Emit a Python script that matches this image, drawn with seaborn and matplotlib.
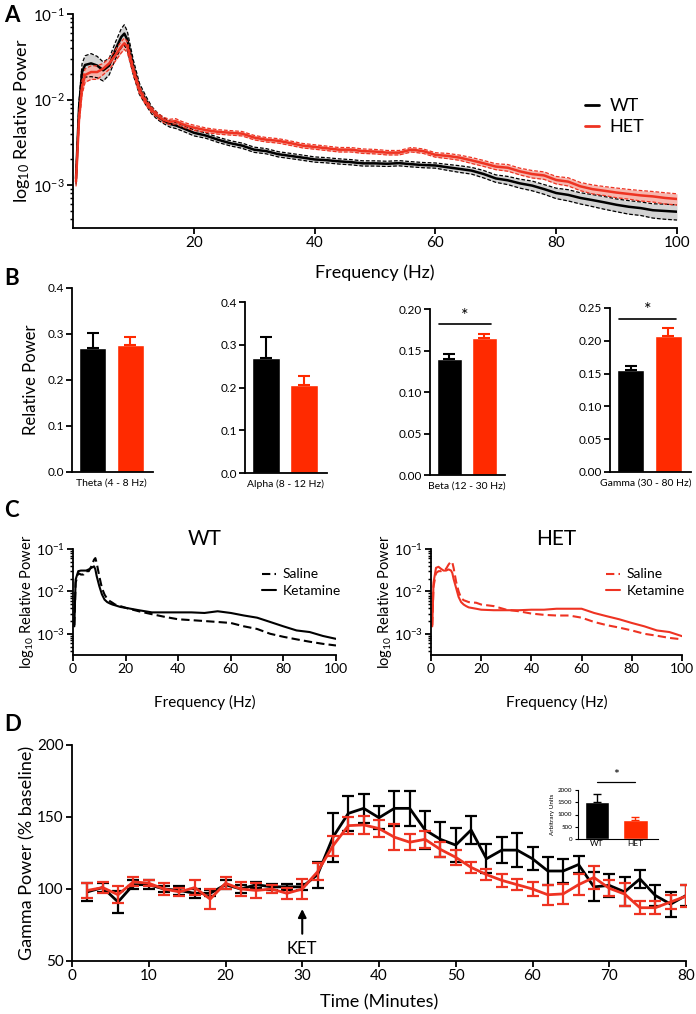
import numpy as np
import pandas as pd
import matplotlib
matplotlib.use("Agg")
import matplotlib.pyplot as plt
from matplotlib.lines import Line2D
from matplotlib.ticker import LogLocator, NullFormatter, FixedLocator
import seaborn as sns

# ---------------- data ----------------
# Panel A : mean spectra (relative power) with SEM fraction
F_A = [0.5, 1, 1.5, 2, 3, 4, 5, 6, 7, 8, 8.5, 9, 10, 11, 12, 13, 14, 15, 16, 17, 18, 19, 20,
       22, 24, 26, 28, 30, 32, 34, 36, 38, 40, 42, 44, 46, 48, 50, 52, 54, 56, 58, 60,
       62, 64, 66, 68, 70, 72, 74, 76, 78, 80, 82, 84, 86, 88, 90, 92, 94, 96, 98, 100]
WT_A = [0.0012, 0.008, 0.021, 0.0254, 0.0265, 0.025, 0.022, 0.025, 0.038, 0.054, 0.059, 0.05,
        0.024, 0.0135, 0.0100, 0.0076, 0.0064, 0.0057, 0.0052, 0.0050, 0.0047, 0.0044, 0.0041,
        0.0038, 0.0034, 0.0031, 0.0029, 0.0026, 0.0025, 0.0023, 0.0022, 0.0021, 0.0020, 0.00196,
        0.0019, 0.00186, 0.0018, 0.0018, 0.00178, 0.00181, 0.00176, 0.00172, 0.0017, 0.00162,
        0.00155, 0.00148, 0.00135, 0.0012, 0.00114, 0.00105, 0.00099, 0.0009, 0.00081, 0.00077,
        0.00071, 0.00067, 0.00063, 0.00059, 0.00056, 0.00054, 0.00051, 0.0005, 0.00049]
WT_A_SEM = [0.15, 0.2, 0.25, 0.28, 0.3, 0.28, 0.25, 0.22, 0.22, 0.25, 0.27, 0.25, 0.2, 0.15, 0.12,
            0.1, 0.09, 0.08, 0.08, 0.08, 0.08, 0.08, 0.08,
            0.07, 0.07, 0.07, 0.07, 0.07, 0.07, 0.07, 0.07, 0.07, 0.07, 0.07, 0.07, 0.07, 0.07,
            0.07, 0.07, 0.07, 0.07, 0.07, 0.07,
            0.08, 0.09, 0.09, 0.1, 0.1, 0.11, 0.12, 0.13, 0.13, 0.14,
            0.15, 0.15, 0.16, 0.17, 0.17, 0.18, 0.18, 0.19, 0.2, 0.2]
HET_A = [0.0011, 0.006, 0.014, 0.0194, 0.021, 0.021, 0.023, 0.0265, 0.033, 0.0415, 0.0455, 0.0415,
         0.022, 0.013, 0.0095, 0.0076, 0.0065, 0.0058, 0.0055, 0.0056, 0.0052, 0.0049, 0.0047,
         0.0044, 0.0042, 0.0041, 0.0040, 0.0036, 0.0034, 0.0033, 0.0031, 0.0029, 0.0028, 0.0027,
         0.0026, 0.0026, 0.0025, 0.00247, 0.0024, 0.0024, 0.0026, 0.0025, 0.00226, 0.0022,
         0.0021, 0.00195, 0.0018, 0.00165, 0.0016, 0.00145, 0.00135, 0.0013, 0.00115, 0.0011,
         0.00097, 0.0009, 0.00086, 0.00082, 0.00079, 0.00076, 0.00074, 0.00071, 0.00069]
HET_A_SEM = [0.12, 0.15, 0.18, 0.18, 0.18, 0.18, 0.15, 0.15, 0.15, 0.15, 0.15, 0.15, 0.12, 0.1,
             0.08, 0.07, 0.07, 0.07, 0.07, 0.07, 0.07, 0.07, 0.07,
             0.06, 0.06, 0.06, 0.06, 0.06, 0.06, 0.06, 0.06, 0.06, 0.06, 0.06, 0.06, 0.06, 0.06,
             0.06, 0.06, 0.06, 0.06, 0.06, 0.06,
             0.07, 0.07, 0.08, 0.08, 0.08, 0.09, 0.09, 0.1, 0.1, 0.1,
             0.11, 0.11, 0.12, 0.12, 0.13, 0.13, 0.14, 0.14, 0.15, 0.15]

# Panel B : band power
BANDS = ["Theta (4 - 8 Hz)", "Alpha (8 - 12 Hz)", "Beta (12 - 30 Hz)", "Gamma (30 - 80 Hz)"]
GENOTYPES = ["WT", "HET"]
WT_BAND = [0.270, 0.270, 0.140, 0.155]
WT_BAND_SEM = [0.032, 0.049, 0.006, 0.007]
HET_BAND = [0.275, 0.207, 0.165, 0.208]
HET_BAND_SEM = [0.019, 0.020, 0.005, 0.011]
B_YMAX = [0.4, 0.4, 0.20, 0.25]
B_YSTEP = [0.1, 0.1, 0.05, 0.05]
B_SIG = [None, None, 0.1815, 0.233]

# Panel C : saline vs ketamine spectra
F_C = [0.5, 1, 2, 3, 4, 5, 6, 7, 8, 8.5, 9, 10, 11, 12, 13, 14, 15, 16, 18, 20, 25, 30, 35, 40,
       45, 50, 55, 60, 65, 70, 75, 80, 85, 90, 95, 100]
WT_SAL = [0.0016, 0.016, 0.027, 0.025, 0.025, 0.03, 0.03, 0.039, 0.056, 0.061, 0.047, 0.0227,
          0.012, 0.0084, 0.0067, 0.0059, 0.0054, 0.0049, 0.0045, 0.0041, 0.0034, 0.0029, 0.0025,
          0.0022, 0.0021, 0.0020, 0.0019, 0.0018, 0.0015, 0.0013, 0.0010, 0.00085, 0.00074,
          0.00065, 0.00058, 0.00053]
WT_KET = [0.0015, 0.019, 0.030, 0.031, 0.031, 0.031, 0.033, 0.036, 0.039, 0.033, 0.023, 0.0133,
          0.0085, 0.0064, 0.0056, 0.0052, 0.0049, 0.0047, 0.0043, 0.0041, 0.0036, 0.0032, 0.0032,
          0.0032, 0.0032, 0.0031, 0.0034, 0.0031, 0.0027, 0.0024, 0.0019, 0.0015, 0.0012, 0.0011,
          0.00089, 0.00076]
HET_SAL = [0.0016, 0.013, 0.027, 0.030, 0.030, 0.033, 0.034, 0.043, 0.051, 0.048, 0.036, 0.017,
           0.010, 0.0070, 0.0062, 0.0059, 0.0056, 0.0055, 0.0054, 0.0049, 0.0045, 0.0037, 0.0034,
           0.0030, 0.0028, 0.0027, 0.0027, 0.0024, 0.0019, 0.0016, 0.0014, 0.0012, 0.0010, 0.0009,
           0.0008, 0.00074]
HET_KET = [0.0015, 0.016, 0.036, 0.038, 0.034, 0.031, 0.031, 0.033, 0.031, 0.027, 0.0197, 0.0121,
           0.0074, 0.0056, 0.0049, 0.0045, 0.0042, 0.0041, 0.0039, 0.0037, 0.0036, 0.0036, 0.0036,
           0.0037, 0.0037, 0.0039, 0.0039, 0.0039, 0.0031, 0.0026, 0.0022, 0.0018, 0.0015, 0.0012,
           0.0011, 0.00088]

# Panel D : gamma power time course
T_D = [2, 4, 6, 8, 10, 12, 14, 16, 18, 20, 22, 24, 26, 28, 30, 32, 34, 36, 38, 40,
       42, 44, 46, 48, 50, 52, 54, 56, 58, 60, 62, 64, 66, 68, 70, 72, 74, 76, 78, 80]
WT_D = [98, 101, 91, 103, 103, 100, 99, 97, 97, 103, 100, 103, 101.5, 101.5, 101.5, 110, 136,
        152.5, 156, 149.5, 156, 156, 141, 134.5, 130.5, 141, 121, 127, 127, 121, 112.5, 112.5,
        117, 101.5, 102.5, 98, 107, 95.5, 89.5, 95.5]
WT_D_SEM = [6.4, 3, 7.5, 3, 3, 2, 3, 3, 2, 3, 3, 2, 2, 2, 2, 9, 17, 12, 10, 8, 12, 12, 13, 12,
            12, 10, 10, 9, 11.6, 8, 9.5, 8, 5.6, 10, 8, 10, 6, 7, 8.6, 7]
HET_D = [99, 101, 96, 105, 104, 100, 98, 101, 93, 104, 100, 99, 100, 97, 100, 112, 130, 144,
         144.5, 142, 136, 132.5, 134.5, 127.5, 122, 115, 110, 106, 103, 100, 96, 96.6, 103, 108,
         100.5, 96.5, 87, 87, 91, 95]
HET_D_SEM = [5, 4, 6, 3, 2, 4, 3, 5, 7, 4, 5, 5, 3, 4, 7, 6, 7, 6, 6.5, 6, 9, 5.5, 6, 5, 5, 4,
             4, 4.5, 4, 5, 7, 6.7, 7.5, 7.7, 5.7, 8, 4.5, 4.5, 4.6, 7.5]
INSET = [1500, 790]
INSET_SEM = [350, 90]

# ---------------- style ----------------
sns.set_theme(style="ticks")
plt.rcParams["font.family"] = ["Lato", "DejaVu Sans"]
plt.rcParams["mathtext.fontset"] = "custom"
plt.rcParams["mathtext.rm"] = "Lato"
plt.rcParams["mathtext.it"] = "Lato:italic"
plt.rcParams["mathtext.bf"] = "Lato:bold"
plt.rcParams["axes.edgecolor"] = "black"
plt.rcParams["xtick.color"] = "black"
plt.rcParams["ytick.color"] = "black"
plt.rcParams["text.color"] = "black"
plt.rcParams["axes.labelcolor"] = "black"

BLACK = "#000000"
RED_BAR = "#FF2A00"
RED_LINE = "#EE3322"

W, H = 696, 1014
fig = plt.figure(figsize=(W / 100, H / 100), dpi=100)


def ax_px(l, t, r, b):
    return fig.add_axes([l / W, 1 - b / H, (r - l) / W, (b - t) / H])


def style(ax, lw=1.3, tick=4, size=10):
    for s in ["top", "right"]:
        ax.spines[s].set_visible(False)
    for s in ["left", "bottom"]:
        ax.spines[s].set_linewidth(lw)
        ax.spines[s].set_color("black")
    ax.tick_params(which="major", width=lw, length=tick, labelsize=size, pad=2)
    ax.tick_params(which="minor", width=lw * 0.8, length=tick * 0.6)


def log_axis(ax):
    ax.set_yscale("log")
    ax.set_ylim(10 ** -3.5, 0.1)
    ax.yaxis.set_major_locator(FixedLocator([1e-3, 1e-2, 1e-1]))
    ax.yaxis.set_minor_locator(LogLocator(base=10, subs=np.arange(2, 10) * 1.0, numticks=12))
    ax.yaxis.set_minor_formatter(NullFormatter())


# ---------------- Panel A ----------------
axA = ax_px(73, 14, 677, 228)
fa = np.array(F_A)
for mean, sem, col, fill in [(WT_A, WT_A_SEM, BLACK, "#CFCFCF"), (HET_A, HET_A_SEM, RED_LINE, "#F6B1A8")]:
    m = np.array(mean)
    s = np.array(sem)
    lo, hi = m * (1 - s), m * (1 + s)
    axA.fill_between(fa, lo, hi, color=fill, lw=0, alpha=0.9)
    axA.plot(fa, lo, ls=(0, (3, 1.5)), color=col, lw=0.9)
    axA.plot(fa, hi, ls=(0, (3, 1.5)), color=col, lw=0.9)
    sns.lineplot(x=fa, y=m, ax=axA, color=col, lw=1.8)
log_axis(axA)
axA.set_xlim(0, 100)
axA.set_xticks([20, 40, 60, 80, 100])
style(axA, size=11)
axA.set_xlabel("Frequency (Hz)", fontsize=13, labelpad=10)
axA.set_ylabel(r"log$_{10}$ Relative Power", fontsize=13, labelpad=1)
handles = [Line2D([], [], color=BLACK, lw=2), Line2D([], [], color=RED_LINE, lw=2)]
axA.legend(handles, ["WT", "HET"], loc="center left", bbox_to_anchor=(0.82, 0.52),
           frameon=False, fontsize=13, handlelength=0.8, handletextpad=0.6, labelspacing=0.3)

# ---------------- Panel B ----------------
B_POS = [(72, 288, 153, 472), (245, 302, 327, 473), (430, 309, 505, 475), (610, 308, 691, 472)]
for i, (l, t, r, b) in enumerate(B_POS):
    ax = ax_px(l, t, r, b)
    df = pd.DataFrame({"genotype": GENOTYPES, "power": [WT_BAND[i], HET_BAND[i]]})
    sns.barplot(data=df, x="genotype", y="power", hue="genotype", palette=[BLACK, RED_BAR],
                ax=ax, width=0.72, legend=False, errorbar=None, saturation=1)
    ax.errorbar([0], [WT_BAND[i]], yerr=[[0], [WT_BAND_SEM[i]]], fmt="none", ecolor=BLACK,
                elinewidth=1.5, capsize=4, capthick=1.5)
    ax.errorbar([1], [HET_BAND[i]], yerr=[[0], [HET_BAND_SEM[i]]], fmt="none", ecolor=RED_BAR,
                elinewidth=1.5, capsize=4, capthick=1.5)
    ax.set_xlim(-0.55, 1.6)
    ax.set_ylim(0, B_YMAX[i])
    ticks = np.round(np.arange(0, B_YMAX[i] + 1e-9, B_YSTEP[i]), 3)
    ax.set_yticks(ticks)
    fmt = "{:.1f}" if B_YSTEP[i] >= 0.1 else "{:.2f}"
    ax.set_yticklabels([fmt.format(v) for v in ticks])
    ax.set_xticks([0.5 if i < 3 else 0.4])
    ax.set_xticklabels([BANDS[i]])
    style(ax, size=8.5)
    ax.tick_params(axis="x", length=0, labelsize=7.5, pad=5)
    ax.set_xlabel("")
    ax.set_ylabel("Relative Power" if i == 0 else "", fontsize=12, labelpad=6)
    if B_SIG[i] is not None:
        ax.plot([-0.3, 1.2], [B_SIG[i], B_SIG[i]], color="black", lw=1.2, clip_on=False)
        ax.text(0.45, B_SIG[i] + B_YMAX[i] * 0.005, "*", ha="center", va="bottom", fontsize=13)

# ---------------- Panel C ----------------
fc = np.array(F_C)
for (l, r), sal, ket, col, title in [((73, 336), WT_SAL, WT_KET, BLACK, "WT"),
                                    ((431, 682), HET_SAL, HET_KET, RED_LINE, "HET")]:
    ax = ax_px(l, 549, r, 655)
    sns.lineplot(x=fc, y=np.array(sal), ax=ax, color=col, lw=1.5, ls=(0, (4, 2)), label="Saline")
    sns.lineplot(x=fc, y=np.array(ket), ax=ax, color=col, lw=1.5, label="Ketamine")
    log_axis(ax)
    ax.set_xlim(0, 100)
    ax.set_xticks([0, 20, 40, 60, 80, 100])
    style(ax, size=10)
    ax.set_xlabel("Frequency (Hz)", fontsize=11, labelpad=14)
    ax.set_ylabel(r"log$_{10}$ Relative Power", fontsize=10.5, labelpad=0)
    ax.set_title(title, fontsize=15, pad=2)
    lx = (262 - l) / (r - l) if title == "WT" else (606 - l) / (r - l)
    ax.legend(loc="center left", bbox_to_anchor=(lx, 0.68), frameon=False, fontsize=10,
              handlelength=1.0, handletextpad=0.5, labelspacing=0.35, borderaxespad=0,
              borderpad=0)

# ---------------- Panel D ----------------
axD = ax_px(72, 745, 686, 961)
td = np.array(T_D)
sns.lineplot(x=td, y=np.array(WT_D), ax=axD, color=BLACK, lw=2)
axD.errorbar(td, WT_D, yerr=WT_D_SEM, fmt="none", ecolor=BLACK, elinewidth=1.6, capsize=4,
             capthick=1.6)
sns.lineplot(x=td, y=np.array(HET_D), ax=axD, color=RED_LINE, lw=2)
axD.errorbar(td, HET_D, yerr=HET_D_SEM, fmt="none", ecolor=RED_LINE, elinewidth=1.6, capsize=4,
             capthick=1.6)
axD.set_xlim(0, 80)
axD.set_ylim(50, 200)
axD.set_xticks(list(range(0, 81, 10)))
axD.set_yticks([50, 100, 150, 200])
style(axD, size=11)
axD.set_xlabel("Time (Minutes)", fontsize=13, labelpad=8)
axD.set_ylabel("Gamma Power (% baseline)", fontsize=13, labelpad=1)
axD.annotate("", xy=(30, 88), xytext=(30, 67),
             arrowprops=dict(arrowstyle="-|>", color="black", lw=1.5, mutation_scale=12))
axD.text(30, 58, "KET", ha="center", va="center", fontsize=12)

# inset
axI = ax_px(578, 790, 658, 839)
dfi = pd.DataFrame({"genotype": GENOTYPES, "au": INSET})
sns.barplot(data=dfi, x="genotype", y="au", hue="genotype", palette=[BLACK, RED_BAR], ax=axI,
            width=0.65, legend=False, errorbar=None, saturation=1)
axI.errorbar([0], [INSET[0]], yerr=[[0], [INSET_SEM[0]]], fmt="none", ecolor=BLACK,
             elinewidth=1.0, capsize=3, capthick=1.0)
axI.errorbar([1], [INSET[1]], yerr=[[0], [INSET_SEM[1]]], fmt="none", ecolor=RED_BAR,
             elinewidth=1.0, capsize=3, capthick=1.0)
axI.set_ylim(0, 2000)
axI.set_xlim(-0.5, 1.6)
axI.set_yticks([0, 500, 1000, 1500, 2000])
style(axI, lw=0.8, tick=2, size=4.5)
axI.tick_params(axis="x", length=0, labelsize=6, pad=1)
axI.set_xlabel("")
axI.set_ylabel("Arbitrary Units", fontsize=4.5, labelpad=2)
axI.plot([0, 1], [2340, 2340], color="black", lw=0.9, clip_on=False)
axI.text(0.5, 2380, "*", ha="center", va="bottom", fontsize=10)

# panel letters
for letter, x, y in [("A", 4, 5), ("B", 4, 268), ("C", 4, 500), ("D", 4, 714)]:
    fig.text(x / W, 1 - y / H, letter, fontsize=16, fontweight="bold", va="top", ha="left")

fig.savefig("out.png", dpi=100)
